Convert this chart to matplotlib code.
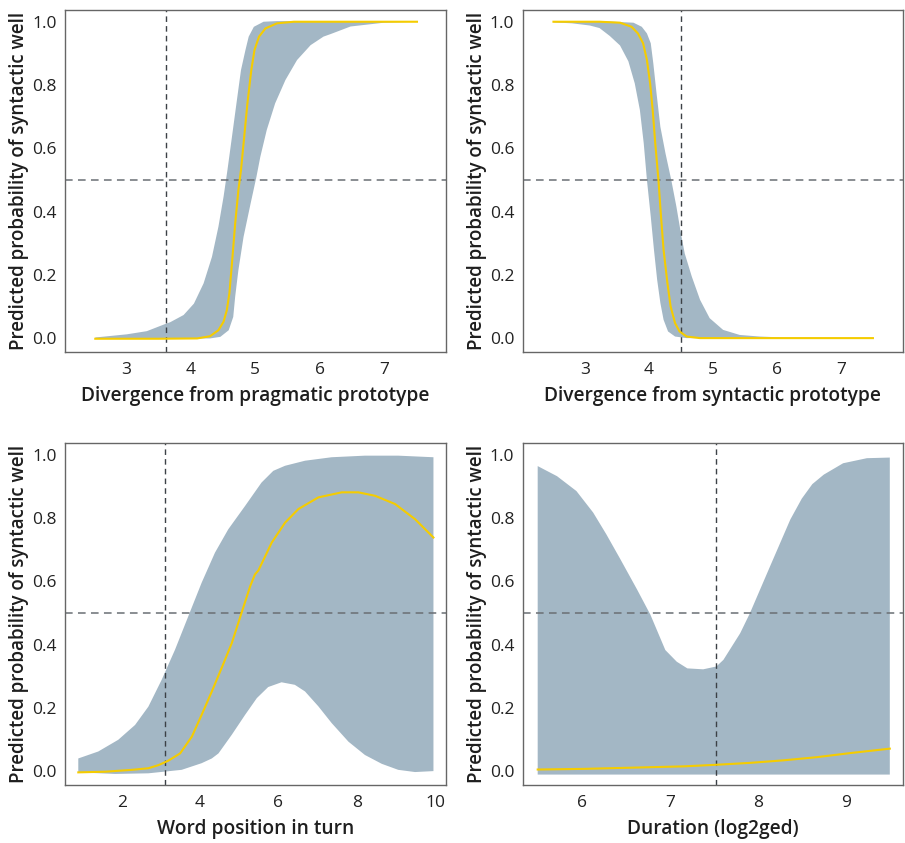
import numpy as np
import matplotlib.pyplot as plt

plt.rcParams["font.family"] = ["Open Sans", "DejaVu Sans"]

BAND = "#a3b7c5"
LINE = "#f5cc00"
ylabel = "Predicted probability of syntactic well"

# panel 1: divergence from pragmatic prototype
p1_fit_x = [2.52, 3.50, 4.10, 4.30, 4.43, 4.51, 4.56, 4.60, 4.64, 4.69, 4.74, 4.78, 4.83, 4.88, 4.94,
            4.99, 5.06, 5.16, 5.34, 5.60, 7.51]
p1_fit_y = [-0.002, -0.002, -0.001, 0.006, 0.025, 0.052, 0.088, 0.141, 0.236, 0.362, 0.468, 0.531, 0.636, 0.742, 0.847,
            0.911, 0.953, 0.979, 0.995, 1.0, 1.0]
p1_lo_x = [2.52, 3.50, 4.30, 4.46, 4.59, 4.66, 4.69, 4.74, 4.82, 4.93, 5.02, 5.08, 5.18, 5.31, 5.47,
           5.65, 5.86, 6.06, 6.17, 6.48, 7.00, 7.51]
p1_lo_y = [-0.001, -0.001, -0.001, 0.004, 0.025, 0.067, 0.131, 0.215, 0.32, 0.426, 0.51, 0.573, 0.658, 0.742, 0.816,
           0.879, 0.926, 0.953, 0.961, 0.985, 0.997, 1.0]
p1_hi_x = [2.52, 3.01, 3.32, 3.61, 3.68, 3.89, 4.05, 4.20, 4.33, 4.43, 4.51, 4.57, 4.64, 4.71, 4.78,
           4.85, 4.90, 4.98, 5.13, 5.34, 7.51]
p1_hi_y = [0.002, 0.012, 0.022, 0.045, 0.05, 0.073, 0.109, 0.173, 0.257, 0.352, 0.447, 0.531, 0.636, 0.742, 0.847,
           0.911, 0.953, 0.984, 1.0, 1.002, 1.002]

# panel 2: divergence from syntactic prototype
p2_fit_x = [2.51, 3.23, 3.55, 3.73, 3.83, 3.91, 3.97, 4.02, 4.06, 4.10, 4.15, 4.19, 4.23, 4.29, 4.34,
            4.41, 4.48, 4.59, 4.80, 7.50]
p2_fit_y = [1.0, 1.0, 0.997, 0.984, 0.963, 0.932, 0.879, 0.805, 0.721, 0.616, 0.50, 0.384, 0.279, 0.174, 0.10,
            0.047, 0.021, 0.005, 0.0, 0.0]
p2_hi_x = [2.51, 3.23, 3.76, 3.89, 3.97, 4.03, 4.07, 4.12, 4.18, 4.26, 4.35, 4.43, 4.50, 4.56, 4.67,
           4.80, 4.95, 5.16, 5.42, 5.73, 6.10, 7.50]
p2_hi_y = [1.002, 1.002, 0.997, 0.984, 0.963, 0.932, 0.868, 0.774, 0.668, 0.584, 0.50, 0.416, 0.332, 0.268, 0.195,
           0.121, 0.063, 0.026, 0.01, 0.005, 0.002, 0.0]
p2_lo_x = [2.51, 2.80, 3.08, 3.23, 3.39, 3.55, 3.68, 3.78, 3.86, 3.92, 3.97, 4.03, 4.08, 4.13, 4.18,
           4.23, 4.30, 4.41, 4.59, 7.50]
p2_lo_y = [0.998, 0.995, 0.988, 0.98, 0.955, 0.925, 0.875, 0.805, 0.721, 0.616, 0.50, 0.384, 0.279, 0.184, 0.111,
           0.058, 0.021, 0.005, 0.0, 0.0]

# panel 3: word position in turn
p3_fit_x = [0.89, 1.57, 2.26, 2.68, 2.94, 3.19, 3.49, 3.79, 4.04, 4.30, 4.55, 4.81, 5.06, 5.28, 5.40,
            5.49, 5.83, 6.17, 6.51, 7.02, 7.62, 8.04, 8.47, 8.98, 9.49, 9.96]
p3_fit_y = [-0.004, -0.002, 0.004, 0.009, 0.019, 0.033, 0.056, 0.109, 0.178, 0.252, 0.326, 0.405, 0.501, 0.585, 0.622,
            0.635, 0.723, 0.786, 0.829, 0.866, 0.882, 0.882, 0.871, 0.845, 0.797, 0.739]
p3_hi_x = [0.89, 1.40, 1.91, 2.34, 2.68, 3.02, 3.36, 3.70, 4.04, 4.38, 4.72, 5.15, 5.57, 5.87, 6.17,
           6.68, 7.36, 8.21, 9.06, 9.96]
p3_hi_y = [0.040, 0.062, 0.099, 0.146, 0.204, 0.289, 0.384, 0.49, 0.596, 0.691, 0.765, 0.839, 0.913, 0.950, 0.966,
           0.982, 0.993, 0.998, 0.998, 0.993]
p3_lo_x = [0.89, 1.83, 2.68, 3.53, 4.04, 4.30, 4.47, 4.81, 5.15, 5.45, 5.74, 6.08, 6.42, 6.68, 7.02,
           7.36, 7.79, 8.21, 8.64, 9.06, 9.49, 9.96]
p3_lo_y = [-0.004, -0.009, -0.007, 0.004, 0.025, 0.04, 0.056, 0.115, 0.178, 0.231, 0.266, 0.281, 0.273, 0.252, 0.205,
           0.152, 0.093, 0.051, 0.023, 0.004, -0.003, 0.0]

# panel 4: duration
p4_fit_x = [5.50, 6.02, 6.59, 7.16, 7.53, 7.91, 8.29, 8.67, 9.05, 9.50]
p4_fit_y = [0.005, 0.007, 0.011, 0.015, 0.02, 0.026, 0.034, 0.044, 0.057, 0.071]
p4_hi_x = [5.50, 5.72, 5.94, 6.13, 6.28, 6.44, 6.63, 6.78, 6.95, 7.08, 7.20, 7.38, 7.53, 7.61, 7.80, 7.91,
           8.14, 8.37, 8.50, 8.62, 8.75, 8.97, 9.24, 9.50]
p4_hi_y = [0.965, 0.933, 0.886, 0.818, 0.749, 0.67, 0.574, 0.495, 0.383, 0.346, 0.325, 0.322, 0.331, 0.352, 0.436, 0.499,
           0.648, 0.796, 0.862, 0.908, 0.938, 0.974, 0.99, 0.992]
p4_lo_x = [5.50, 9.50]
p4_lo_y = [-0.011, -0.011]

panels = [
    dict(fx=p1_fit_x, fy=p1_fit_y, lx=p1_lo_x, ly=p1_lo_y, hx=p1_hi_x, hy=p1_hi_y,
         xlim=(2.05, 7.96), ticks=[3, 4, 5, 6, 7], vline=3.61,
         xlabel="Divergence from pragmatic prototype"),
    dict(fx=p2_fit_x, fy=p2_fit_y, lx=p2_lo_x, ly=p2_lo_y, hx=p2_hi_x, hy=p2_hi_y,
         xlim=(2.03, 7.97), ticks=[3, 4, 5, 6, 7], vline=4.5,
         xlabel="Divergence from syntactic prototype"),
    dict(fx=p3_fit_x, fy=p3_fit_y, lx=p3_lo_x, ly=p3_lo_y, hx=p3_hi_x, hy=p3_hi_y,
         xlim=(0.55, 10.28), ticks=[2, 4, 6, 8, 10], vline=3.11,
         xlabel="Word position in turn"),
    dict(fx=p4_fit_x, fy=p4_fit_y, lx=p4_lo_x, ly=p4_lo_y, hx=p4_hi_x, hy=p4_hi_y,
         xlim=(5.33, 9.65), ticks=[6, 7, 8, 9], vline=7.53,
         xlabel="Duration (log2ged)"),
]

fig = plt.figure(figsize=(9.05, 8.43), dpi=100)
boxes = [
    [0.0718, 0.5824, 0.421, 0.4057],
    [0.5776, 0.5824, 0.4202, 0.4057],
    [0.0718, 0.0688, 0.421, 0.4053],
    [0.5776, 0.0688, 0.4202, 0.4053],
]

for box, p in zip(boxes, panels):
    ax = fig.add_axes(box)
    # polygon of the confidence band
    bx = list(p["hx"]) + list(p["lx"])[::-1]
    by = list(p["hy"]) + list(p["ly"])[::-1]
    ax.fill(bx, by, color=BAND, lw=0, zorder=1)
    ax.plot(p["fx"], p["fy"], color=LINE, lw=1.5, zorder=3, solid_joinstyle="round")
    ax.axhline(0.5, color="#6a6f74", lw=1.1, ls=(0, (5, 3.5)), zorder=2)
    ax.axvline(p["vline"], color="#3c4146", lw=1.0, ls=(0, (4, 3)), zorder=2)

    ax.set_xlim(*p["xlim"])
    ax.set_ylim(-0.044, 1.037)
    ax.set_xticks(p["ticks"])
    ax.set_yticks([0.0, 0.2, 0.4, 0.6, 0.8, 1.0])
    ax.set_yticklabels(["0.0", "0.2", "0.4", "0.6", "0.8", "1.0"])
    ax.tick_params(length=0, labelsize=12.5, colors="#222222", pad=6)
    ax.tick_params(axis="x", pad=7)
    for s in ax.spines.values():
        s.set_color("#666666")
        s.set_linewidth(1.0)
    ax.set_xlabel(p["xlabel"], fontsize=13.8, fontweight="semibold", color="#1e1e1e", labelpad=6)
    ax.set_ylabel(ylabel, fontsize=13.5, fontweight="semibold", color="#1e1e1e", labelpad=2)

fig.savefig("out.png", dpi=100)
